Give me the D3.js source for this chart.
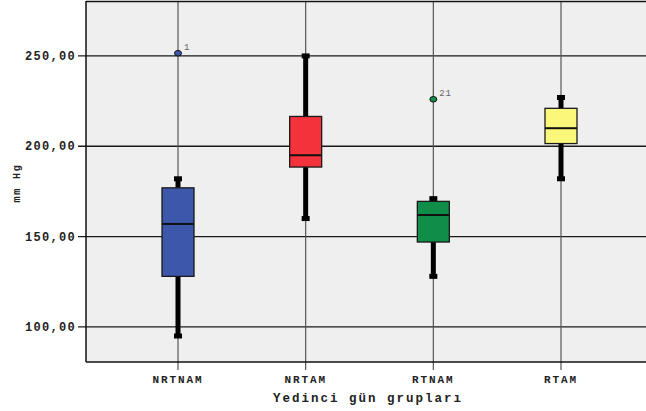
<!DOCTYPE html>
<html>
<head>
<meta charset="utf-8">
<script src="https://cdn.jsdelivr.net/npm/d3@7"></script>
<style>
  html, body { margin: 0; padding: 0; background: #ffffff; }
  svg { display: block; }
</style>
</head>
<body>
<svg id="chart" width="646" height="411"></svg>
<script>
// Systolic pressure by group, day seven
const groups   = ["NRTNAM", "NRTAM", "RTNAM", "RTAM"];
const minVals  = [95, 160, 128, 182];
const q1Vals   = [128, 188.5, 147, 201.5];
const medVals  = [157, 195, 162, 210];
const q3Vals   = [177, 216.5, 169.5, 221];
const maxVals  = [182, 250, 171, 227];
const colors   = ["#3d58ab", "#f3323b", "#118d4a", "#fbf77a"];
const outliers = [
  { group: "NRTNAM", value: 251.5, label: "1" },
  { group: "RTNAM",  value: 226,   label: "21" }
];
const yTicks = [100, 150, 200, 250];

const svg = d3.select("#chart");
const plotL = 86, plotR = 646, plotT = 1, plotB = 362;
const mono = "'Liberation Mono', 'DejaVu Sans Mono', monospace";

const x = d3.scalePoint().domain(groups).range([178, 561]);
const y = d3.scaleLinear().domain([80.6, 280.4]).range([plotB, plotT]);

// plot background
svg.append("rect")
  .attr("x", plotL).attr("y", plotT)
  .attr("width", plotR - plotL).attr("height", plotB - plotT)
  .attr("fill", "#efefef");

// horizontal grid lines with outer ticks
svg.append("g").selectAll("line").data(yTicks).join("line")
  .attr("x1", plotL - 8).attr("x2", plotR)
  .attr("y1", d => y(d)).attr("y2", d => y(d))
  .attr("stroke", "#1a1a1a").attr("stroke-width", 1.3);

// vertical grid lines at each group, extending to tick below axis
svg.append("g").selectAll("line").data(groups).join("line")
  .attr("x1", d => x(d)).attr("x2", d => x(d))
  .attr("y1", plotT).attr("y2", plotB + 8)
  .attr("stroke", "#555").attr("stroke-width", 1.2);

// frame: top, left and bottom
svg.append("line").attr("x1", plotL).attr("x2", plotR).attr("y1", plotT + 0.5).attr("y2", plotT + 0.5)
  .attr("stroke", "#111").attr("stroke-width", 1.5);
svg.append("line").attr("x1", plotL).attr("x2", plotL).attr("y1", plotT).attr("y2", plotB)
  .attr("stroke", "#111").attr("stroke-width", 1.5);
svg.append("line").attr("x1", plotL).attr("x2", plotR).attr("y1", plotB).attr("y2", plotB)
  .attr("stroke", "#111").attr("stroke-width", 1.5);

// y tick labels
const fmt = d => d3.format(".2f")(d).replace(".", ",");
svg.append("g").selectAll("text").data(yTicks).join("text")
  .attr("x", plotL - 10).attr("y", d => y(d) + 4)
  .attr("text-anchor", "end")
  .attr("font-family", mono)
  .attr("font-weight", "bold").attr("font-size", 12)
  .attr("letter-spacing", 1.3)
  .attr("fill", "#222")
  .text(fmt);

// boxes
const data = groups.map((g, i) => ({
  g, min: minVals[i], q1: q1Vals[i], med: medVals[i], q3: q3Vals[i], max: maxVals[i], color: colors[i]
}));
const boxW = 32, capW = 8, capH = 5;
const boxes = svg.append("g").selectAll("g").data(data).join("g");

// whiskers
boxes.append("line")
  .attr("x1", d => x(d.g)).attr("x2", d => x(d.g))
  .attr("y1", d => y(d.max)).attr("y2", d => y(d.q3))
  .attr("stroke", "#000").attr("stroke-width", 5);
boxes.append("line")
  .attr("x1", d => x(d.g)).attr("x2", d => x(d.g))
  .attr("y1", d => y(d.q1)).attr("y2", d => y(d.min))
  .attr("stroke", "#000").attr("stroke-width", 5);
// caps
boxes.append("rect")
  .attr("x", d => x(d.g) - capW / 2).attr("y", d => y(d.max) - capH / 2)
  .attr("width", capW).attr("height", capH).attr("fill", "#000");
boxes.append("rect")
  .attr("x", d => x(d.g) - capW / 2).attr("y", d => y(d.min) - capH / 2)
  .attr("width", capW).attr("height", capH).attr("fill", "#000");
// box
boxes.append("rect")
  .attr("x", d => x(d.g) - boxW / 2).attr("y", d => y(d.q3))
  .attr("width", boxW).attr("height", d => y(d.q1) - y(d.q3))
  .attr("fill", d => d.color).attr("stroke", "#1a1a1a").attr("stroke-width", 1.3);
// median
boxes.append("line")
  .attr("x1", d => x(d.g) - boxW / 2).attr("x2", d => x(d.g) + boxW / 2)
  .attr("y1", d => y(d.med)).attr("y2", d => y(d.med))
  .attr("stroke", "#111").attr("stroke-width", 2);

// outliers
const colorOf = g => colors[groups.indexOf(g)];
const outs = svg.append("g").selectAll("g").data(outliers).join("g");
outs.append("ellipse")
  .attr("cx", d => x(d.group)).attr("cy", d => y(d.value))
  .attr("rx", 3.5).attr("ry", 2.8)
  .attr("fill", d => colorOf(d.group)).attr("stroke", "#111").attr("stroke-width", 1);
outs.append("text")
  .attr("x", d => x(d.group) + 6).attr("y", d => y(d.value) - 3)
  .attr("font-family", mono)
  .attr("font-size", 9).attr("letter-spacing", 0.8).attr("fill", "#666")
  .text(d => d.label);

// x labels
svg.append("g").selectAll("text").data(groups).join("text")
  .attr("x", d => x(d)).attr("y", plotB + 21)
  .attr("text-anchor", "middle")
  .attr("font-family", mono)
  .attr("font-weight", "bold").attr("font-size", 11)
  .attr("letter-spacing", 1.9)
  .attr("fill", "#222")
  .text(d => d);

// axis titles
svg.append("text")
  .attr("x", (plotL + plotR) / 2 + 2).attr("y", 402)
  .attr("text-anchor", "middle")
  .attr("font-family", mono)
  .attr("font-weight", "bold").attr("font-size", 12.5)
  .attr("letter-spacing", 2)
  .attr("fill", "#222")
  .text("Yedinci gün grupları");

svg.append("text")
  .attr("transform", "translate(20,183) rotate(-90)")
  .attr("text-anchor", "middle")
  .attr("font-family", mono)
  .attr("font-weight", "bold").attr("font-size", 10)
  .attr("letter-spacing", 1.8)
  .attr("fill", "#222")
  .text("mm Hg");
</script>
</body>
</html>
